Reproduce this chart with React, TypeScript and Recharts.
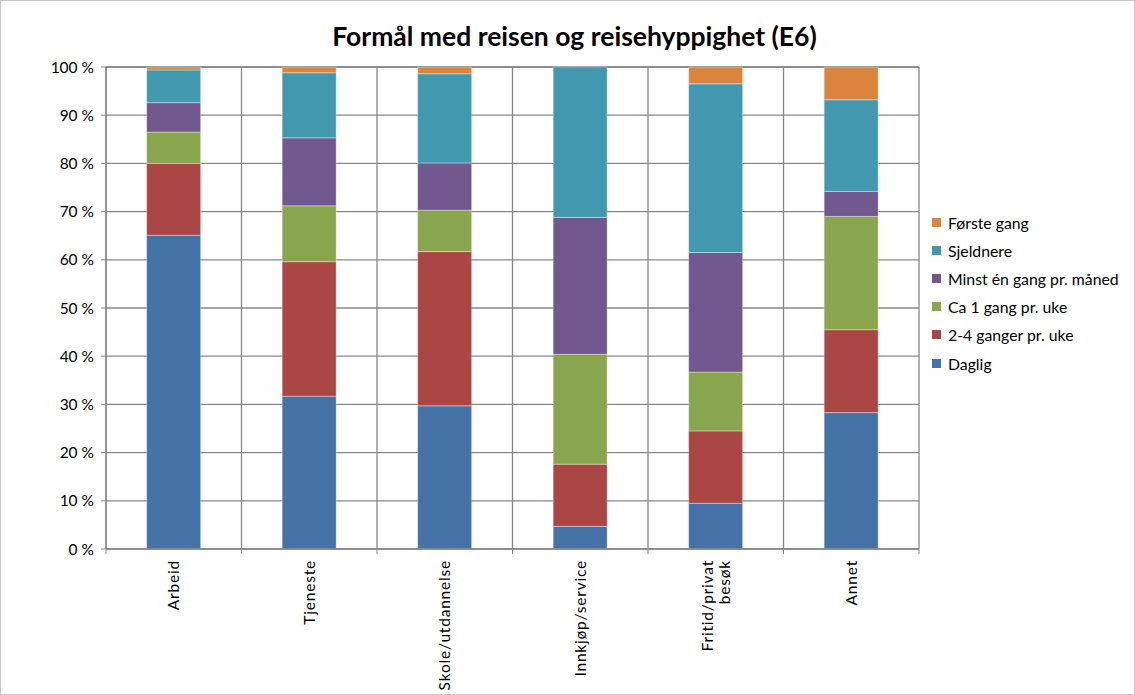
import { BarChart, Bar, XAxis, YAxis, CartesianGrid } from "recharts";

// kategorier (formål med reisen)
const formaal = ["Arbeid", "Tjeneste", "Skole/utdannelse", "Innkjøp/service", "Fritid/privat besøk", "Annet"];

// andeler i prosent, lest av figuren
const daglig = [65.1, 31.7, 29.7, 4.7, 9.5, 28.3];
const toFire = [14.9, 27.9, 32.0, 12.9, 15.0, 17.2];
const caEn = [6.5, 11.6, 8.6, 22.8, 12.2, 23.5];
const minstEn = [6.1, 14.1, 9.8, 28.4, 24.8, 5.2];
const sjeldnere = [6.8, 13.5, 18.5, 31.2, 35.0, 19.0];
const forsteGang = [0.6, 1.2, 1.4, 0, 3.5, 6.8];

const yTicks = [0, 10, 20, 30, 40, 50, 60, 70, 80, 90, 100];

const serier = [
  { key: "daglig", navn: "Daglig", farge: "#4572A7", verdier: daglig },
  { key: "toFire", navn: "2-4 ganger pr. uke", farge: "#AA4643", verdier: toFire },
  { key: "caEn", navn: "Ca 1 gang pr. uke", farge: "#89A54E", verdier: caEn },
  { key: "minstEn", navn: "Minst én gang pr. måned", farge: "#71588F", verdier: minstEn },
  { key: "sjeldnere", navn: "Sjeldnere", farge: "#4198AF", verdier: sjeldnere },
  { key: "forste", navn: "Første gang", farge: "#DB843D", verdier: forsteGang },
];

const data = formaal.map((f, i) => {
  const rad: any = { formaal: f };
  serier.forEach((s) => (rad[s.key] = s.verdier[i]));
  return rad;
});

const W = 1135;
const H = 695;
const LEFT = 105;
const RIGHT = 217;
const TOP = 66;
const BOTTOM = 147;
const band = (W - LEFT - RIGHT) / formaal.length;
const font = "Lato, 'Open Sans', sans-serif";
const gridFarge = "#878787";

function XTick(props: any) {
  const { x, y, payload, index } = props;
  const linjer: string[] =
    payload.value === "Fritid/privat besøk" ? ["Fritid/privat", "besøk"] : [payload.value];
  const lh = 17;
  return (
    <g transform={`translate(${x},${y})`}>
      <line x1={-band / 2} y1={0} x2={-band / 2} y2={5} stroke={gridFarge} />
      {index === formaal.length - 1 && (
        <line x1={band / 2} y1={0} x2={band / 2} y2={5} stroke={gridFarge} />
      )}
      <text
        transform="rotate(-90)"
        textAnchor="end"
        fontSize={15.5}
        fontFamily={font}
        letterSpacing={0.8}
        fill="#000"
      >
        {linjer.map((l, i) => (
          <tspan key={i} x={-11} y={(i - (linjer.length - 1) / 2) * lh} dy="0.35em">
            {l}
          </tspan>
        ))}
      </text>
    </g>
  );
}

export default function App() {
  return (
    <div
      style={{
        position: "fixed",
        left: 0,
        top: 0,
        width: W - 2,
        height: H - 2,
        border: "1px solid #c8c8c8",
        background: "#fff",
        fontFamily: font,
      }}
    >
      <div
        style={{
          position: "absolute",
          top: 19,
          left: 6,
          width: W,
          textAlign: "center",
          fontSize: 26.5,
          fontWeight: "bold",
          color: "#000",
        }}
      >
        Formål med reisen og reisehyppighet (E6)
      </div>

      <div style={{ position: "absolute", left: 0, top: 0 }}>
        <BarChart
          width={W}
          height={H}
          data={data}
          margin={{ top: TOP, right: RIGHT, left: 0, bottom: 0 }}
          barCategoryGap="30%"
        >
          <CartesianGrid
            stroke={gridFarge}
            strokeWidth={1.3}
            verticalCoordinatesGenerator={({ offset }: any) =>
              formaal.map((_, i) => offset.left + i * (offset.width / formaal.length)).concat(offset.left + offset.width)
            }
          />
          <XAxis
            dataKey="formaal"
            height={BOTTOM}
            interval={0}
            tickLine={false}
            tickSize={0}
            tickMargin={0}
            axisLine={{ stroke: gridFarge, strokeWidth: 1.3 }}
            tick={<XTick />}
          />
          <YAxis
            width={LEFT}
            domain={[0, 100]}
            ticks={yTicks}
            interval={0}
            tickSize={5}
            tickMargin={7}
            tickFormatter={(v) => `${v} %`}
            tick={{ fontSize: 15.5, fill: "#000", fontFamily: font }}
            tickLine={{ stroke: gridFarge }}
            axisLine={{ stroke: gridFarge, strokeWidth: 1.3 }}
          />
          {serier.map((s) => (
            <Bar
              key={s.key}
              dataKey={s.key}
              name={s.navn}
              stackId="a"
              fill={s.farge}
              stroke="#ffffff"
              strokeOpacity={0.35}
              strokeWidth={1}
              isAnimationActive={false}
            />
          ))}
        </BarChart>
      </div>

      <div style={{ position: "absolute", left: 931, top: 207 }}>
        {[...serier].reverse().map((s) => (
          <div
            key={s.key}
            style={{ display: "flex", alignItems: "center", height: 28.2, fontSize: 15.8, color: "#000" }}
          >
            <span style={{ width: 9, height: 9, background: s.farge, marginRight: 7 }} />
            <span>{s.navn}</span>
          </div>
        ))}
      </div>
    </div>
  );
}
